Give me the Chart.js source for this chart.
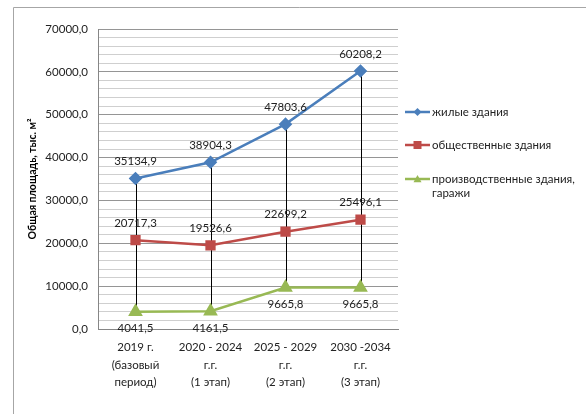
<!DOCTYPE html>
<html>
<head>
<meta charset="utf-8">
<script src="https://cdn.jsdelivr.net/npm/chart.js@4.4.1/dist/chart.umd.min.js"></script>
<style>
  html, body { margin: 0; padding: 0; background: #ffffff; }
  #wrap { position: relative; width: 586px; height: 414px; }
</style>
</head>
<body>
<div id="wrap"><canvas id="chart" width="586" height="414"></canvas></div>
<script>
// Periods on the category axis (multi-line labels)
const categories = [
  ['2019 г.', '(базовый', 'период)'],
  ['2020 - 2024', 'г.г.', '(1 этап)'],
  ['2025 - 2029', 'г.г.', '(2 этап)'],
  ['2030 -2034', 'г.г.', '(3 этап)']
];

// Floor area by building type, thousand m²
const residential = [35134.9, 38904.3, 47803.6, 60208.2];
const publicBuildings = [20717.3, 19526.6, 22699.2, 25496.1];
const industrial = [4041.5, 4161.5, 9665.8, 9665.8];

// Legend names (split into display lines)
const seriesNames = [
  ['жилые здания'],
  ['общественные здания'],
  ['производственные здания,', 'гаражи']
];

const yTickLabels = [0, 10000, 20000, 30000, 40000, 50000, 60000, 70000];

const FONT = 'Lato, "Open Sans", "DejaVu Sans", sans-serif';
const fmt = v => v.toFixed(1).replace('.', ',');

// Outer frame lines
const framePlugin = {
  id: 'frame',
  beforeDraw(chart) {
    const ctx = chart.ctx;
    ctx.save();
    ctx.strokeStyle = '#a6a6a6';
    ctx.lineWidth = 1;
    ctx.beginPath();
    ctx.moveTo(13.5, 414);
    ctx.lineTo(13.5, 7.5);
    ctx.lineTo(586, 7.5);
    ctx.stroke();
    ctx.restore();
  }
};

// High-low lines joining the top and bottom series at each category
const hiLoPlugin = {
  id: 'hiLo',
  beforeDatasetsDraw(chart) {
    const ctx = chart.ctx;
    const x = chart.scales.x, y = chart.scales.y;
    ctx.save();
    ctx.strokeStyle = '#000000';
    ctx.lineWidth = 1;
    categories.forEach((c, i) => {
      const vals = chart.data.datasets.map(d => d.data[i]);
      const px = Math.round(x.getPixelForValue(i)) + 0.5;
      ctx.beginPath();
      ctx.moveTo(px, y.getPixelForValue(Math.max(...vals)));
      ctx.lineTo(px, y.getPixelForValue(Math.min(...vals)));
      ctx.stroke();
    });
    ctx.restore();
  }
};

// Value labels next to each point
const valueLabelPlugin = {
  id: 'valueLabels',
  afterDatasetsDraw(chart) {
    const ctx = chart.ctx;
    ctx.save();
    ctx.font = '11.5px ' + FONT;
    ctx.fillStyle = '#222222';
    ctx.textAlign = 'center';
    ctx.textBaseline = 'middle';
    chart.data.datasets.forEach((ds, di) => {
      const meta = chart.getDatasetMeta(di);
      meta.data.forEach((pt, i) => {
        const off = ds.labelBelow ? 17 : -17;
        ctx.fillText(fmt(ds.data[i]), pt.x, pt.y + off);
      });
    });
    ctx.restore();
  }
};

// Legend on the right with line + marker samples
const sideLegendPlugin = {
  id: 'sideLegend',
  afterDraw(chart) {
    const ctx = chart.ctx;
    const rows = [112, 145, 179];
    ctx.save();
    chart.data.datasets.forEach((ds, di) => {
      const yy = rows[di];
      ctx.strokeStyle = ds.borderColor;
      ctx.lineWidth = 2.5;
      ctx.beginPath();
      ctx.moveTo(405, yy);
      ctx.lineTo(430, yy);
      ctx.stroke();
      ctx.fillStyle = ds.backgroundColor;
      const cx = 417.5, r = 4;
      ctx.beginPath();
      if (ds.pointStyle === 'rectRot') {
        ctx.moveTo(cx, yy - r); ctx.lineTo(cx + r, yy); ctx.lineTo(cx, yy + r); ctx.lineTo(cx - r, yy);
      } else if (ds.pointStyle === 'rect') {
        ctx.rect(cx - r, yy - r, 2 * r, 2 * r);
      } else {
        ctx.moveTo(cx, yy - r); ctx.lineTo(cx + r, yy + r * 0.8); ctx.lineTo(cx - r, yy + r * 0.8);
      }
      ctx.closePath();
      ctx.fill();
      ctx.fillStyle = '#222222';
      ctx.font = '11.5px ' + FONT;
      ctx.textAlign = 'left';
      ctx.textBaseline = 'middle';
      seriesNames[di].forEach((line, li) => ctx.fillText(line, 432, yy + li * 14));
    });
    ctx.restore();
  }
};

new Chart(document.getElementById('chart'), {
  type: 'line',
  data: {
    labels: categories,
    datasets: [
      {
        label: seriesNames[0].join(' '),
        data: residential,
        borderColor: '#4a7ebb',
        backgroundColor: '#4a7ebb',
        pointStyle: 'rectRot',
        pointRadius: 5,
        borderWidth: 2.5,
        tension: 0
      },
      {
        label: seriesNames[1].join(' '),
        data: publicBuildings,
        borderColor: '#be4b48',
        backgroundColor: '#be4b48',
        pointStyle: 'rect',
        pointRadius: 5.5,
        borderWidth: 2.5,
        tension: 0
      },
      {
        label: seriesNames[2].join(' '),
        data: industrial,
        borderColor: '#98b954',
        backgroundColor: '#98b954',
        pointStyle: 'triangle',
        pointRadius: 6,
        borderWidth: 2.5,
        tension: 0,
        labelBelow: true
      }
    ]
  },
  options: {
    responsive: false,
    animation: false,
    layout: { padding: { left: 0, top: 29, right: 188, bottom: 0 } },
    plugins: { legend: { display: false }, tooltip: { enabled: false } },
    scales: {
      x: {
        offset: true,
        grid: { display: false, drawTicks: false },
        border: { display: true, color: '#868686', width: 1 },
        ticks: {
          padding: 10,
          color: '#222222',
          font: { family: FONT, size: 11.5, lineHeight: 1.5 },
          maxRotation: 0,
          autoSkip: false
        },
        afterFit(s) { s.height = 85; }
      },
      y: {
        min: 0,
        max: 70000,
        ticks: {
          stepSize: 2000,
          padding: 10,
          color: '#222222',
          font: { family: FONT, size: 11.5 },
          autoSkip: false,
          callback: v => yTickLabels.includes(v) ? fmt(v) : ''
        },
        grid: {
          drawTicks: false,
          color: c => (c.tick && c.tick.value % 10000 === 0) ? '#959595' : '#cfcfcf',
          lineWidth: 1
        },
        border: { display: true, color: '#868686', width: 1 },
        title: {
          display: true,
          text: 'Общая площадь, тыс. м²',
          color: '#000000',
          font: { family: FONT, size: 10.5, weight: 'bold', lineHeight: 1.2 },
          padding: { top: 26, bottom: 0 }
        },
        afterFit(s) { s.width = 98; }
      }
    }
  },
  plugins: [framePlugin, hiLoPlugin, valueLabelPlugin, sideLegendPlugin]
});
</script>
</body>
</html>
